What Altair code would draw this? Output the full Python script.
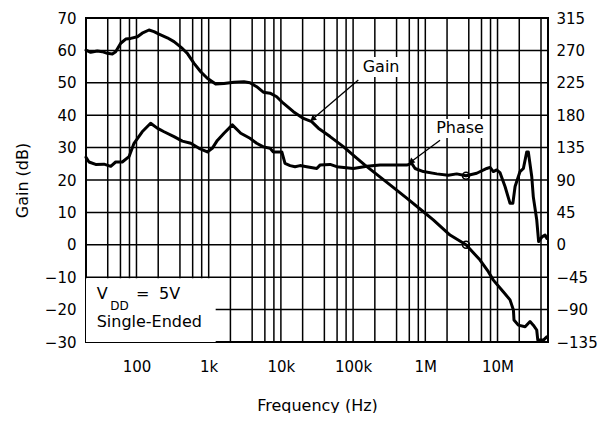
import altair as alt
import pandas as pd

# ---- data ----
gain_freq = [20, 23.2, 28.7, 33.6, 39.4, 46.3, 51.5, 60.5, 71, 83.2,
             103, 120, 149, 175, 205, 267, 331, 432, 506, 627,
             776, 957, 1250, 1630, 2240, 3080, 3730, 4620, 5710, 7070,
             8750, 10800, 14900, 20500, 26700, 33000, 48000, 73300, 106000, 146000,
             325000, 553000, 940000, 1.29e6, 2.2e6, 3.66e6, 5.73e6, 7.46e6, 8.75e6, 12.0e6,
             14.9e6, 16.6e6, 16.9e6, 19.4e6, 24.1e6, 28.2e6, 31.3e6, 34.9e6, 36.1e6, 43.2e6,
             48.1e6]
gain_db = [60.1, 59.4, 59.8, 59.6, 59.1, 58.9, 59.6, 62.2, 63.5, 63.7,
           64.2, 65.3, 66.3, 65.8, 65.0, 63.9, 62.7, 60.6, 59.1, 56.0,
           53.4, 51.4, 49.6, 49.8, 50.2, 50.3, 50.0, 48.8, 47.1, 46.8,
           45.7, 43.7, 41.1, 39.0, 38.0, 36.0, 33.4, 30.3, 27.2, 24.6,
           18.5, 14.4, 10.2, 7.7, 3.0, 0.0, -4.7, -8.3, -10.9, -14.5,
           -17.0, -20.1, -23.2, -24.8, -25.3, -23.7, -24.8, -26.3, -29.4, -29.4,
           -28.4]

phase_freq = [20, 22.0, 27.2, 35.5, 44, 51.5, 63.6, 78.8, 92.5, 120,
              157, 194, 241, 331, 432, 564, 735, 957, 1120, 1318,
              1630, 2125, 2780, 3730, 4620, 5710, 7070, 7850, 10300, 11400,
              13400, 15700, 18400, 22800, 31400, 34800, 48000, 59300, 101000, 155000,
              236000, 553000, 649000, 721000, 940000, 1.44e6, 2.08e6, 2.72e6, 3.66e6, 5.15e6,
              7.09e6, 7.88e6, 8.75e6, 9.75e6, 10.8e6, 12.7e6, 14.9e6, 16.3e6, 17.5e6, 20.5e6,
              22.8e6, 25.4e6, 26.7e6, 29.8e6, 31.3e6, 34.9e6, 37.1e6, 41.3e6, 45.5e6, 48.1e6]
phase_deg = [121.5, 115, 111.6, 112, 109, 115, 115, 122.4, 141, 157,
             168.8, 162, 157, 150.3, 144, 141, 134, 129, 134, 145,
             155, 166.5, 155, 148, 141, 136, 134, 129, 129, 113,
             110, 108.5, 110, 108.5, 106, 110.7, 111.6, 108.5, 106, 109,
             110.7, 110.7, 113, 106, 101.7, 98.5, 96.7, 98.5, 95.8, 99.4,
             106, 107.5, 101.7, 104, 100.3, 81, 57.6, 57.6, 81, 101.7,
             106, 129, 129, 94.5, 66.6, 34.7, 4.5, 11, 13.5, 9]

# crossover markers
marker_freq = [3.66e6]
marker_gain = [0.0]
marker_phase = [95.8]

# axes (x labels: 100, 1k, 10k, 100k, 1M, 10M)
x_tick_values = [100, 1000, 10000, 100000, 1000000, 10000000]
x_tick_format = "~s"
gain_ticks = [-30, -20, -10, 0, 10, 20, 30, 40, 50, 60, 70]
phase_ticks = [-135, -90, -45, 0, 45, 90, 135, 180, 225, 270, 315]
grid_decades = [10, 100, 1000, 10000, 100000, 1000000, 10000000]
grid_mult = [1, 2, 4, 6, 8]
hgrid_levels = [-20, -10, 0, 10, 20, 30, 40, 50, 60]

# inset box and annotations
box_freq = [20, 1250]
box_gain = [-30, -10.3]

arrow_x = [118000, 1.60e6]
arrow_y = [50.9, 32.3]
arrow_x2 = [28100, 649000]
arrow_y2 = [39.0, 25.8]
arrow_angle = [230, 231]

label_text = ["Gain", "Phase"]
label_freq = [244000, 3.03e6]
label_gain = [55.0, 36.0]
label_bg_x = [129000, 1.32e6]
label_bg_x2 = [461000, 6.93e6]
label_bg_y = [58.0, 38.8]
label_bg_y2 = [51.8, 33.0]

note_text = ["V", "DD", "=", "5V", "Single-Ended"]
note_freq = [28.1, 43.5, 98.5, 205, 28.1]
note_gain = [-15.2, -19.0, -15.2, -15.2, -23.8]
note_size = [16, 12, 16, 16, 16]

FONT = "DejaVu Sans"

# ---- build ----
grid_freqs = [d * m for d in grid_decades for m in grid_mult if 20 < d * m < 5e7]

x_scale = alt.Scale(type="log", domain=[20, 5e7], nice=False)
yg_scale = alt.Scale(domain=[-30, 70], nice=False, zero=False)
yp_scale = alt.Scale(domain=[-135, 315], nice=False, zero=False)

# identical x axis on every layer (shared scale, merged axis)
x_axis = alt.Axis(values=x_tick_values, format=x_tick_format,
                  title="Frequency (Hz)", titlePadding=23,
                  labelPadding=17, orient="bottom")


def X(field):
    return alt.X(field, scale=x_scale, axis=x_axis)


gain_df = pd.DataFrame({"freq": gain_freq, "gain": gain_db})
phase_df = pd.DataFrame({"freq": phase_freq, "phase": phase_deg})

vgrid = alt.Chart(pd.DataFrame({"freq": grid_freqs})).mark_rule(
    color="black", strokeWidth=1.5
).encode(x=X("freq:Q"))

hgrid = alt.Chart(pd.DataFrame({"gain": hgrid_levels})).mark_rule(
    color="black", strokeWidth=1.5
).encode(y=alt.Y("gain:Q", scale=yg_scale,
                 axis=alt.Axis(values=gain_ticks, title="Gain (dB)", titlePadding=14,
                               labelPadding=10, orient="left")))

box = alt.Chart(pd.DataFrame({"x": [box_freq[0]], "x2": [box_freq[1]],
                              "y": [box_gain[0]], "y2": [box_gain[1]]})).mark_rect(
    fill="white"
).encode(
    x=X("x:Q"), x2="x2:Q",
    y=alt.Y("y:Q", scale=yg_scale, axis=None), y2="y2:Q",
)

label_bg = alt.Chart(pd.DataFrame({"x": label_bg_x, "x2": label_bg_x2,
                                   "y": label_bg_y, "y2": label_bg_y2})).mark_rect(
    fill="white"
).encode(
    x=X("x:Q"), x2="x2:Q",
    y=alt.Y("y:Q", scale=yg_scale, axis=None), y2="y2:Q",
)

gain_line = alt.Chart(gain_df).mark_line(
    color="black", strokeWidth=3, strokeJoin="round", strokeCap="round"
).encode(
    x=X("freq:Q"),
    y=alt.Y("gain:Q", scale=yg_scale, axis=None),
)

gain_mark = alt.Chart(pd.DataFrame({"freq": marker_freq, "gain": marker_gain})).mark_point(
    shape="circle", filled=False, size=50, strokeWidth=1.5, color="black", opacity=1
).encode(x=X("freq:Q"),
         y=alt.Y("gain:Q", scale=yg_scale, axis=None))

arrow_df = pd.DataFrame({"x": arrow_x, "y": arrow_y, "x2": arrow_x2, "y2": arrow_y2,
                         "angle": arrow_angle})
arrows = alt.Chart(arrow_df).mark_rule(color="black", strokeWidth=1.3).encode(
    x=X("x:Q"), x2="x2:Q",
    y=alt.Y("y:Q", scale=yg_scale, axis=None), y2="y2:Q",
)
heads = alt.Chart(arrow_df).mark_point(
    shape="triangle", filled=True, size=45, color="black", opacity=1
).encode(
    x=X("x2:Q"),
    y=alt.Y("y2:Q", scale=yg_scale, axis=None),
    angle=alt.Angle("angle:Q", scale=None),
)

labels = alt.Chart(pd.DataFrame({"text": label_text, "freq": label_freq,
                                 "gain": label_gain})).mark_text(
    font=FONT, fontSize=16, color="black", align="center", baseline="middle"
).encode(
    x=X("freq:Q"),
    y=alt.Y("gain:Q", scale=yg_scale, axis=None),
    text="text:N",
)

notes = alt.Chart(pd.DataFrame({"text": note_text, "freq": note_freq,
                                "gain": note_gain, "size": note_size})).mark_text(
    font=FONT, color="black", align="left", baseline="middle"
).encode(
    x=X("freq:Q"),
    y=alt.Y("gain:Q", scale=yg_scale, axis=None),
    text="text:N",
    size=alt.Size("size:Q", scale=None, legend=None),
)

phase_line = alt.Chart(phase_df).mark_line(
    color="black", strokeWidth=3, strokeJoin="round", strokeCap="round"
).encode(
    x=X("freq:Q"),
    y=alt.Y("phase:Q", scale=yp_scale,
            axis=alt.Axis(values=phase_ticks, orient="right", title=None, labelPadding=8)),
)
phase_mark = alt.Chart(pd.DataFrame({"freq": marker_freq, "phase": marker_phase})).mark_point(
    shape="circle", filled=False, size=50, strokeWidth=1.5, color="black", opacity=1
).encode(x=X("freq:Q"),
         y=alt.Y("phase:Q", scale=yp_scale, axis=None))

chart = alt.layer(
    vgrid, hgrid, box, label_bg, gain_line, gain_mark, arrows, heads, labels, notes,
    phase_line, phase_mark
).resolve_scale(y="independent").properties(
    width=462, height=324,
    padding={"left": 78, "top": 10, "right": 50, "bottom": 71},
    autosize=alt.AutoSizeParams(type="none"),
    background="white",
).configure_view(
    stroke="black", strokeWidth=2
).configure_axis(
    domain=False, ticks=False, grid=False,
    labelFont=FONT, labelFontSize=15, labelColor="black",
    titleFont=FONT, titleFontSize=16, titleColor="black", titleFontWeight="normal",
)

chart.save("out.html", embed_options={"renderer": "svg", "actions": False})
